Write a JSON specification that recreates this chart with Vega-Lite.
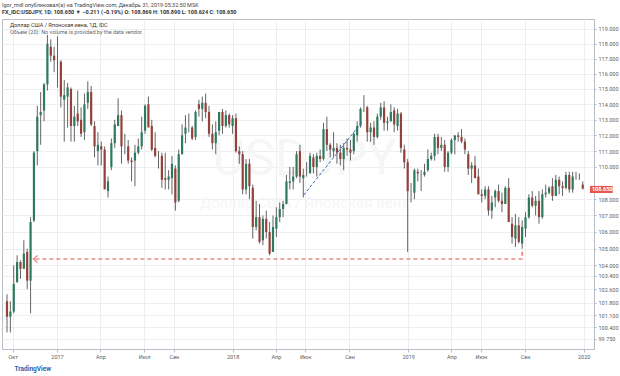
{
  "$schema": "https://vega.github.io/schema/vega-lite/v6.json",
  "width": 592,
  "height": 330,
  "autosize": "none",
  "padding": {"left": 2, "top": 19, "right": 26, "bottom": 27},
  "background": "white",
  "title": {
    "text": "Igor_mdl опубликовал(а) на TradingView.com, Декабрь 31, 2019 05:32:50 MSK",
    "subtitle": "FX_IDC:USDJPY, 1D: 108.650 ▼ −0.211 (−0.19%) O: 108.869 H: 108.890 L: 108.624 C: 108.650",
    "anchor": "start",
    "frame": "group",
    "font": "Roboto",
    "subtitleFont": "Roboto",
    "fontSize": 5.5,
    "fontWeight": "normal",
    "color": "#444444",
    "subtitleFontSize": 5.5,
    "subtitleFontWeight": "bold",
    "subtitleColor": "#333333",
    "subtitlePadding": 1,
    "offset": 4
  },
  "config": {
    "font": "Roboto",
    "view": {"stroke": "#b8bcc4", "strokeWidth": 1},
    "axis": {
      "gridColor": "#eceef2",
      "gridWidth": 1,
      "domainColor": "#b8bcc4",
      "tickColor": "#b8bcc4",
      "labelColor": "#5d5d5d",
      "labelFontSize": 5.5,
      "labelFont": "Roboto",
      "tickSize": 2
    }
  },
  "datasets": {
    "ohlc": [
      {"d":"2016-09-19","o":101.9,"h":102.3,"l":100.1,"c":101.0},
      {"d":"2016-09-26","o":101.0,"h":101.9,"l":100.1,"c":101.3},
      {"d":"2016-10-03","o":101.3,"h":104.0,"l":101.2,"c":102.9},
      {"d":"2016-10-10","o":103.0,"h":104.6,"l":103.0,"c":104.2},
      {"d":"2016-10-17","o":104.2,"h":104.3,"l":103.2,"c":103.8},
      {"d":"2016-10-24","o":103.8,"h":105.5,"l":103.8,"c":104.7},
      {"d":"2016-10-31","o":104.8,"h":105.0,"l":102.6,"c":103.1},
      {"d":"2016-11-07","o":103.1,"h":106.9,"l":101.2,"c":106.6},
      {"d":"2016-11-14","o":106.7,"h":111.0,"l":106.6,"c":110.9},
      {"d":"2016-11-21","o":111.0,"h":113.9,"l":110.1,"c":113.2},
      {"d":"2016-11-28","o":113.3,"h":114.8,"l":111.4,"c":113.5},
      {"d":"2016-12-05","o":113.6,"h":115.4,"l":112.9,"c":115.3},
      {"d":"2016-12-12","o":115.3,"h":118.6,"l":114.9,"c":118.0},
      {"d":"2016-12-19","o":117.8,"h":118.3,"l":116.8,"c":117.2},
      {"d":"2016-12-26","o":117.2,"h":117.8,"l":116.1,"c":116.9},
      {"d":"2017-01-02","o":117.0,"h":118.5,"l":115.1,"c":117.0},
      {"d":"2017-01-09","o":116.8,"h":116.9,"l":113.8,"c":114.5},
      {"d":"2017-01-16","o":114.3,"h":115.6,"l":111.6,"c":114.6},
      {"d":"2017-01-23","o":114.5,"h":115.4,"l":112.5,"c":115.1},
      {"d":"2017-01-30","o":115.0,"h":115.1,"l":111.6,"c":112.6},
      {"d":"2017-02-06","o":112.6,"h":113.9,"l":111.6,"c":113.2},
      {"d":"2017-02-13","o":113.4,"h":114.9,"l":112.6,"c":112.9},
      {"d":"2017-02-20","o":113.0,"h":113.8,"l":111.9,"c":112.1},
      {"d":"2017-02-27","o":112.2,"h":114.7,"l":111.7,"c":114.0},
      {"d":"2017-03-06","o":114.1,"h":115.5,"l":113.7,"c":114.8},
      {"d":"2017-03-13","o":114.8,"h":115.2,"l":112.6,"c":112.7},
      {"d":"2017-03-20","o":112.6,"h":112.9,"l":110.6,"c":111.3},
      {"d":"2017-03-27","o":111.0,"h":112.2,"l":110.1,"c":111.4},
      {"d":"2017-04-03","o":111.3,"h":111.6,"l":110.1,"c":111.1},
      {"d":"2017-04-10","o":111.1,"h":111.3,"l":108.7,"c":108.6},
      {"d":"2017-04-17","o":108.5,"h":109.4,"l":108.1,"c":109.1},
      {"d":"2017-04-24","o":110.0,"h":111.8,"l":109.8,"c":111.5},
      {"d":"2017-05-01","o":111.5,"h":113.0,"l":111.2,"c":112.7},
      {"d":"2017-05-08","o":112.6,"h":114.4,"l":112.6,"c":113.3},
      {"d":"2017-05-15","o":113.3,"h":113.6,"l":110.2,"c":111.3},
      {"d":"2017-05-22","o":111.3,"h":112.1,"l":110.8,"c":111.3},
      {"d":"2017-05-29","o":111.3,"h":111.7,"l":110.2,"c":110.4},
      {"d":"2017-06-05","o":110.4,"h":110.6,"l":109.1,"c":110.3},
      {"d":"2017-06-12","o":110.4,"h":111.4,"l":108.8,"c":110.9},
      {"d":"2017-06-19","o":110.9,"h":111.8,"l":110.8,"c":111.3},
      {"d":"2017-06-26","o":111.3,"h":113.2,"l":111.1,"c":112.2},
      {"d":"2017-07-03","o":112.3,"h":114.0,"l":112.1,"c":113.9},
      {"d":"2017-07-10","o":114.0,"h":114.5,"l":112.6,"c":112.5},
      {"d":"2017-07-17","o":112.6,"h":113.0,"l":111.0,"c":111.1},
      {"d":"2017-07-24","o":111.2,"h":112.2,"l":110.6,"c":110.7},
      {"d":"2017-07-31","o":110.7,"h":111.0,"l":109.9,"c":110.7},
      {"d":"2017-08-07","o":110.7,"h":110.9,"l":108.7,"c":109.2},
      {"d":"2017-08-14","o":109.3,"h":110.9,"l":108.6,"c":109.2},
      {"d":"2017-08-21","o":109.2,"h":109.8,"l":108.6,"c":109.4},
      {"d":"2017-08-28","o":109.3,"h":110.7,"l":108.3,"c":110.2},
      {"d":"2017-09-04","o":109.9,"h":110.1,"l":107.3,"c":107.8},
      {"d":"2017-09-11","o":107.9,"h":111.1,"l":107.8,"c":110.8},
      {"d":"2017-09-18","o":110.8,"h":112.7,"l":110.8,"c":112.0},
      {"d":"2017-09-25","o":112.1,"h":113.3,"l":111.5,"c":112.5},
      {"d":"2017-10-02","o":112.6,"h":113.4,"l":112.2,"c":112.6},
      {"d":"2017-10-09","o":112.5,"h":112.6,"l":111.7,"c":111.8},
      {"d":"2017-10-16","o":111.9,"h":113.6,"l":111.7,"c":113.5},
      {"d":"2017-10-23","o":114.0,"h":114.3,"l":113.2,"c":113.7},
      {"d":"2017-10-30","o":113.7,"h":114.5,"l":112.9,"c":114.1},
      {"d":"2017-11-06","o":114.1,"h":114.7,"l":113.1,"c":113.5},
      {"d":"2017-11-13","o":113.5,"h":113.9,"l":111.9,"c":112.1},
      {"d":"2017-11-20","o":112.1,"h":112.7,"l":111.1,"c":111.5},
      {"d":"2017-11-27","o":111.5,"h":112.9,"l":110.8,"c":112.2},
      {"d":"2017-12-04","o":112.3,"h":113.5,"l":112.0,"c":113.5},
      {"d":"2017-12-11","o":113.5,"h":113.7,"l":112.1,"c":112.6},
      {"d":"2017-12-18","o":112.6,"h":113.6,"l":112.5,"c":113.3},
      {"d":"2017-12-25","o":113.3,"h":113.4,"l":112.5,"c":112.7},
      {"d":"2018-01-01","o":112.6,"h":113.3,"l":112.1,"c":113.1},
      {"d":"2018-01-08","o":113.1,"h":113.4,"l":110.9,"c":111.0},
      {"d":"2018-01-15","o":111.0,"h":111.3,"l":110.2,"c":110.8},
      {"d":"2018-01-22","o":110.8,"h":111.0,"l":108.3,"c":108.6},
      {"d":"2018-01-29","o":108.6,"h":110.5,"l":108.3,"c":110.2},
      {"d":"2018-02-05","o":110.2,"h":110.5,"l":108.0,"c":108.8},
      {"d":"2018-02-12","o":108.7,"h":108.9,"l":105.6,"c":106.3},
      {"d":"2018-02-19","o":106.3,"h":107.9,"l":106.1,"c":106.9},
      {"d":"2018-02-26","o":106.9,"h":107.7,"l":105.3,"c":105.4},
      {"d":"2018-03-05","o":105.5,"h":107.0,"l":105.2,"c":106.8},
      {"d":"2018-03-12","o":106.8,"h":107.3,"l":105.6,"c":106.0},
      {"d":"2018-03-19","o":106.0,"h":106.6,"l":104.6,"c":104.7},
      {"d":"2018-03-26","o":104.8,"h":107.0,"l":104.8,"c":106.3},
      {"d":"2018-04-02","o":106.2,"h":107.5,"l":105.7,"c":106.9},
      {"d":"2018-04-09","o":106.9,"h":107.8,"l":106.6,"c":107.4},
      {"d":"2018-04-16","o":107.4,"h":107.9,"l":106.9,"c":107.7},
      {"d":"2018-04-23","o":107.7,"h":109.5,"l":107.7,"c":109.1},
      {"d":"2018-04-30","o":109.0,"h":110.0,"l":108.6,"c":109.1},
      {"d":"2018-05-07","o":109.1,"h":110.0,"l":108.6,"c":109.4},
      {"d":"2018-05-14","o":109.4,"h":111.0,"l":109.3,"c":110.8},
      {"d":"2018-05-21","o":111.0,"h":111.4,"l":109.0,"c":109.4},
      {"d":"2018-05-28","o":109.3,"h":109.9,"l":108.1,"c":109.5},
      {"d":"2018-06-04","o":109.5,"h":110.3,"l":109.4,"c":109.5},
      {"d":"2018-06-11","o":109.6,"h":110.9,"l":109.6,"c":110.7},
      {"d":"2018-06-18","o":110.6,"h":110.8,"l":109.6,"c":110.0},
      {"d":"2018-06-25","o":110.0,"h":110.9,"l":109.4,"c":110.7},
      {"d":"2018-07-02","o":110.7,"h":111.1,"l":110.3,"c":110.5},
      {"d":"2018-07-09","o":110.5,"h":112.8,"l":110.4,"c":112.4},
      {"d":"2018-07-16","o":112.4,"h":113.2,"l":111.0,"c":111.4},
      {"d":"2018-07-23","o":111.4,"h":111.5,"l":110.6,"c":111.1},
      {"d":"2018-07-30","o":111.0,"h":112.2,"l":110.6,"c":111.2},
      {"d":"2018-08-06","o":111.2,"h":111.5,"l":110.2,"c":110.9},
      {"d":"2018-08-13","o":110.9,"h":111.4,"l":110.1,"c":110.5},
      {"d":"2018-08-20","o":110.5,"h":111.5,"l":109.8,"c":111.2},
      {"d":"2018-08-27","o":111.2,"h":111.8,"l":110.7,"c":111.1},
      {"d":"2018-09-03","o":111.1,"h":111.7,"l":110.4,"c":110.9},
      {"d":"2018-09-10","o":111.0,"h":112.2,"l":110.8,"c":112.1},
      {"d":"2018-09-17","o":112.0,"h":112.9,"l":111.6,"c":112.6},
      {"d":"2018-09-24","o":112.6,"h":113.8,"l":112.5,"c":113.7},
      {"d":"2018-10-01","o":113.7,"h":114.6,"l":113.5,"c":113.7},
      {"d":"2018-10-08","o":113.8,"h":113.9,"l":111.6,"c":112.2},
      {"d":"2018-10-15","o":112.2,"h":112.8,"l":111.6,"c":112.5},
      {"d":"2018-10-22","o":112.5,"h":112.9,"l":111.4,"c":111.9},
      {"d":"2018-10-29","o":111.9,"h":113.4,"l":111.8,"c":113.2},
      {"d":"2018-11-05","o":113.2,"h":114.1,"l":113.0,"c":113.8},
      {"d":"2018-11-12","o":113.8,"h":114.2,"l":112.3,"c":112.8},
      {"d":"2018-11-19","o":112.8,"h":113.2,"l":112.3,"c":112.9},
      {"d":"2018-11-26","o":112.9,"h":114.0,"l":112.9,"c":113.5},
      {"d":"2018-12-03","o":113.6,"h":113.8,"l":112.2,"c":112.7},
      {"d":"2018-12-10","o":112.6,"h":113.7,"l":112.3,"c":113.4},
      {"d":"2018-12-17","o":113.4,"h":113.5,"l":110.9,"c":111.2},
      {"d":"2018-12-24","o":111.1,"h":111.4,"l":109.9,"c":110.3},
      {"d":"2018-12-31","o":110.3,"h":110.5,"l":104.8,"c":108.5},
      {"d":"2019-01-07","o":108.4,"h":109.0,"l":107.8,"c":108.4},
      {"d":"2019-01-14","o":108.4,"h":109.9,"l":108.0,"c":109.8},
      {"d":"2019-01-21","o":109.7,"h":109.9,"l":109.1,"c":109.6},
      {"d":"2019-01-28","o":109.5,"h":109.8,"l":108.5,"c":109.5},
      {"d":"2019-02-04","o":109.5,"h":110.2,"l":109.4,"c":109.7},
      {"d":"2019-02-11","o":109.8,"h":111.1,"l":109.7,"c":110.5},
      {"d":"2019-02-18","o":110.5,"h":110.9,"l":110.4,"c":110.7},
      {"d":"2019-02-25","o":110.7,"h":112.1,"l":110.4,"c":111.9},
      {"d":"2019-03-04","o":111.9,"h":112.1,"l":110.8,"c":111.2},
      {"d":"2019-03-11","o":111.2,"h":111.9,"l":111.0,"c":111.4},
      {"d":"2019-03-18","o":111.4,"h":111.7,"l":109.7,"c":110.0},
      {"d":"2019-03-25","o":110.0,"h":111.0,"l":109.7,"c":110.9},
      {"d":"2019-04-01","o":110.9,"h":111.8,"l":110.8,"c":111.7},
      {"d":"2019-04-08","o":111.7,"h":112.0,"l":110.8,"c":112.0},
      {"d":"2019-04-15","o":112.0,"h":112.2,"l":111.6,"c":111.9},
      {"d":"2019-04-22","o":111.9,"h":112.4,"l":111.5,"c":111.6},
      {"d":"2019-04-29","o":111.6,"h":111.8,"l":110.8,"c":111.1},
      {"d":"2019-05-06","o":110.8,"h":111.0,"l":109.5,"c":109.9},
      {"d":"2019-05-13","o":109.9,"h":110.3,"l":109.0,"c":110.1},
      {"d":"2019-05-20","o":110.1,"h":110.7,"l":109.4,"c":109.3},
      {"d":"2019-05-27","o":109.4,"h":109.9,"l":108.3,"c":108.3},
      {"d":"2019-06-03","o":108.3,"h":108.6,"l":107.8,"c":108.2},
      {"d":"2019-06-10","o":108.2,"h":108.8,"l":108.0,"c":108.6},
      {"d":"2019-06-17","o":108.6,"h":108.8,"l":107.0,"c":107.3},
      {"d":"2019-06-24","o":107.3,"h":108.2,"l":106.8,"c":107.8},
      {"d":"2019-07-01","o":108.1,"h":108.6,"l":107.5,"c":108.5},
      {"d":"2019-07-08","o":108.5,"h":108.9,"l":107.8,"c":107.9},
      {"d":"2019-07-15","o":107.9,"h":108.4,"l":107.2,"c":107.7},
      {"d":"2019-07-22","o":107.7,"h":108.8,"l":107.7,"c":108.7},
      {"d":"2019-07-29","o":108.7,"h":109.3,"l":106.8,"c":106.6},
      {"d":"2019-08-05","o":106.5,"h":106.9,"l":105.3,"c":105.7},
      {"d":"2019-08-12","o":105.6,"h":107.1,"l":105.1,"c":106.4},
      {"d":"2019-08-19","o":106.4,"h":106.9,"l":105.3,"c":105.4},
      {"d":"2019-08-26","o":105.3,"h":106.7,"l":105.0,"c":106.3},
      {"d":"2019-09-02","o":106.2,"h":107.2,"l":105.7,"c":106.9},
      {"d":"2019-09-09","o":106.9,"h":108.3,"l":106.8,"c":108.1},
      {"d":"2019-09-16","o":108.1,"h":108.5,"l":107.5,"c":107.6},
      {"d":"2019-09-23","o":107.6,"h":108.2,"l":107.0,"c":107.9},
      {"d":"2019-09-30","o":107.9,"h":108.5,"l":106.5,"c":106.9},
      {"d":"2019-10-07","o":106.9,"h":108.6,"l":106.8,"c":108.3},
      {"d":"2019-10-14","o":108.3,"h":108.9,"l":108.1,"c":108.4},
      {"d":"2019-10-21","o":108.4,"h":108.8,"l":108.3,"c":108.7},
      {"d":"2019-10-28","o":108.8,"h":109.3,"l":107.9,"c":108.2},
      {"d":"2019-11-04","o":108.2,"h":109.5,"l":108.2,"c":109.2},
      {"d":"2019-11-11","o":109.2,"h":109.4,"l":108.3,"c":108.8},
      {"d":"2019-11-18","o":108.8,"h":109.1,"l":108.2,"c":108.7},
      {"d":"2019-11-25","o":108.7,"h":109.7,"l":108.6,"c":109.5},
      {"d":"2019-12-02","o":109.5,"h":109.7,"l":108.4,"c":108.6},
      {"d":"2019-12-09","o":108.6,"h":109.7,"l":108.4,"c":109.4},
      {"d":"2019-12-16","o":109.4,"h":109.7,"l":109.2,"c":109.4},
      {"d":"2019-12-23","o":109.4,"h":109.6,"l":109.2,"c":109.4},
      {"d":"2019-12-30","o":108.9,"h":109.1,"l":108.6,"c":108.65}
    ],
    "blue": [
      {"d":"2018-05-29","p":108.26,"i":1},
      {"d":"2018-09-27","p":112.86,"i":2}
    ],
    "red": [
      {"d":"2016-11-17","p":104.38,"i":1},
      {"d":"2019-08-26","p":104.38,"i":2},
      {"d":"2019-08-26","p":105.0,"i":3}
    ],
    "arrow": [
      {"d":"2016-11-17","p":104.38}
    ],
    "mark1": [
      {"d":"2018-05-31","p":110.44,"t":"USDJPY"}
    ],
    "mark2": [
      {"d":"2018-05-31","p":107.77,"t":"Доллар США / Японская иена"}
    ],
    "legend1": [
      {"d":"2016-09-25","p":119.27,"t":"Доллар США / Японская иена, 1Д, IDC"}
    ],
    "legend2": [
      {"d":"2016-09-25","p":118.83,"t":"Объем (20): No volume is provided by the data vendor."}
    ],
    "tag": [
      {"d1":"2020-01-14","d2":"2020-03-01","p1":108.38,"p2":108.82,"p":108.65,"t":"108.650"}
    ]
  },
  "layer": [
    {
      "data": {"name": "ohlc"},
      "mark": {"type": "rule", "color": "#3c3c3c", "strokeWidth": 0.8, "opacity": 0},
      "encoding": {
        "x": {
          "field": "d", "type": "temporal",
          "scale": {"type": "utc", "domain": [{"year":2016,"month":9,"date":19,"utc":true},{"year":2020,"month":1,"date":12,"utc":true}]},
          "axis": {
            "title": "TradingView",
            "titleAnchor": "start",
            "titleAlign": "left",
            "titleBaseline": "middle",
            "titleX": 12,
            "titleY": 19,
            "titleColor": "#2b5fb0",
            "titleFontSize": 6.5,
            "titleFontWeight": "bold",
            "titleFont": "Roboto",
            "grid": true,
            "tickSize": 3,
            "labelPadding": 2,
            "labelFlush": false,
            "labelOverlap": false,
            "values": [
              {"year":2016,"month":10,"date":1,"utc":true},
              {"year":2017,"month":1,"date":1,"utc":true},
              {"year":2017,"month":4,"date":1,"utc":true},
              {"year":2017,"month":7,"date":1,"utc":true},
              {"year":2017,"month":9,"date":1,"utc":true},
              {"year":2018,"month":1,"date":1,"utc":true},
              {"year":2018,"month":4,"date":1,"utc":true},
              {"year":2018,"month":6,"date":1,"utc":true},
              {"year":2018,"month":9,"date":1,"utc":true},
              {"year":2019,"month":1,"date":1,"utc":true},
              {"year":2019,"month":4,"date":1,"utc":true},
              {"year":2019,"month":6,"date":1,"utc":true},
              {"year":2019,"month":9,"date":1,"utc":true},
              {"year":2020,"month":1,"date":1,"utc":true}
            ],
            "labelExpr": "utcmonth(datum.value) == 0 ? utcFormat(datum.value, '%Y') : ['Янв','Фев','Мар','Апр','Май','Июн','Июл','Авг','Сен','Окт','Ноя','Дек'][utcmonth(datum.value)]"
          }
        },
        "y": {
          "field": "l", "type": "quantitative",
          "scale": {"type": "log", "domain": [99.16, 119.68], "nice": false},
          "axis": {
            "orient": "right",
            "title": null,
            "grid": true,
            "tickSize": 2,
            "labelPadding": 2,
            "format": ".3f",
            "labelOverlap": false,
            "values": [99.75, 100.4, 101.1, 101.8, 102.6, 103.4, 104, 105, 106, 107, 108, 110, 111, 112, 113, 114, 115, 116, 117, 118, 119]
          }
        },
        "y2": {"field": "h"}
      }
    },
    {
      "data": {"name": "mark1"},
      "mark": {"type": "text", "fontSize": 50, "color": "#f5f6f8", "align": "center", "baseline": "middle", "font": "Roboto"},
      "encoding": {
        "x": {"field": "d", "type": "temporal"},
        "y": {"field": "p", "type": "quantitative"},
        "text": {"field": "t"}
      }
    },
    {
      "data": {"name": "mark2"},
      "mark": {"type": "text", "fontSize": 15, "color": "#f5f6f8", "align": "center", "baseline": "middle", "font": "Roboto"},
      "encoding": {
        "x": {"field": "d", "type": "temporal"},
        "y": {"field": "p", "type": "quantitative"},
        "text": {"field": "t"}
      }
    },
    {
      "data": {"name": "ohlc"},
      "mark": {"type": "rule", "color": "#3c3c3c", "strokeWidth": 0.8},
      "encoding": {
        "x": {"field": "d", "type": "temporal"},
        "y": {"field": "l", "type": "quantitative"},
        "y2": {"field": "h"}
      }
    },
    {
      "data": {"name": "ohlc"},
      "mark": {"type": "bar", "width": 2.2},
      "encoding": {
        "x": {"field": "d", "type": "temporal"},
        "y": {"field": "o", "type": "quantitative"},
        "y2": {"field": "c"},
        "color": {"condition": {"test": "datum.c >= datum.o", "value": "#2d7a5e"}, "value": "#96403a"}
      }
    },
    {
      "data": {"name": "blue"},
      "mark": {"type": "line", "color": "#3a64b8", "strokeWidth": 1, "strokeDash": [3, 2]},
      "encoding": {
        "x": {"field": "d", "type": "temporal"},
        "y": {"field": "p", "type": "quantitative"},
        "order": {"field": "i"}
      }
    },
    {
      "data": {"name": "red"},
      "mark": {"type": "line", "color": "#e0524a", "strokeWidth": 1.2, "strokeDash": [4, 3]},
      "encoding": {
        "x": {"field": "d", "type": "temporal"},
        "y": {"field": "p", "type": "quantitative"},
        "order": {"field": "i"}
      }
    },
    {
      "data": {"name": "arrow"},
      "mark": {"type": "point", "shape": "M 0.6 -1 L -0.6 0 L 0.6 1", "size": 49, "filled": false, "color": "#e0524a", "strokeWidth": 1.2},
      "encoding": {
        "x": {"field": "d", "type": "temporal"},
        "y": {"field": "p", "type": "quantitative"}
      }
    },
    {
      "data": {"name": "legend1"},
      "mark": {"type": "text", "fontSize": 5.5, "color": "#333333", "align": "left", "baseline": "middle", "font": "Roboto"},
      "encoding": {
        "x": {"field": "d", "type": "temporal"},
        "y": {"field": "p", "type": "quantitative"},
        "text": {"field": "t"}
      }
    },
    {
      "data": {"name": "legend2"},
      "mark": {"type": "text", "fontSize": 5.5, "color": "#666666", "align": "left", "baseline": "middle", "font": "Roboto"},
      "encoding": {
        "x": {"field": "d", "type": "temporal"},
        "y": {"field": "p", "type": "quantitative"},
        "text": {"field": "t"}
      }
    },
    {
      "data": {"name": "tag"},
      "mark": {"type": "rect", "color": "#e8574c"},
      "encoding": {
        "x": {"field": "d1", "type": "temporal"},
        "x2": {"field": "d2"},
        "y": {"field": "p1", "type": "quantitative"},
        "y2": {"field": "p2"}
      }
    },
    {
      "data": {"name": "tag"},
      "mark": {"type": "text", "fontSize": 5.5, "color": "white", "align": "left", "baseline": "middle", "dx": 2, "font": "Roboto", "fontWeight": "bold"},
      "encoding": {
        "x": {"field": "d1", "type": "temporal"},
        "y": {"field": "p", "type": "quantitative"},
        "text": {"field": "t"}
      }
    }
  ]
}
